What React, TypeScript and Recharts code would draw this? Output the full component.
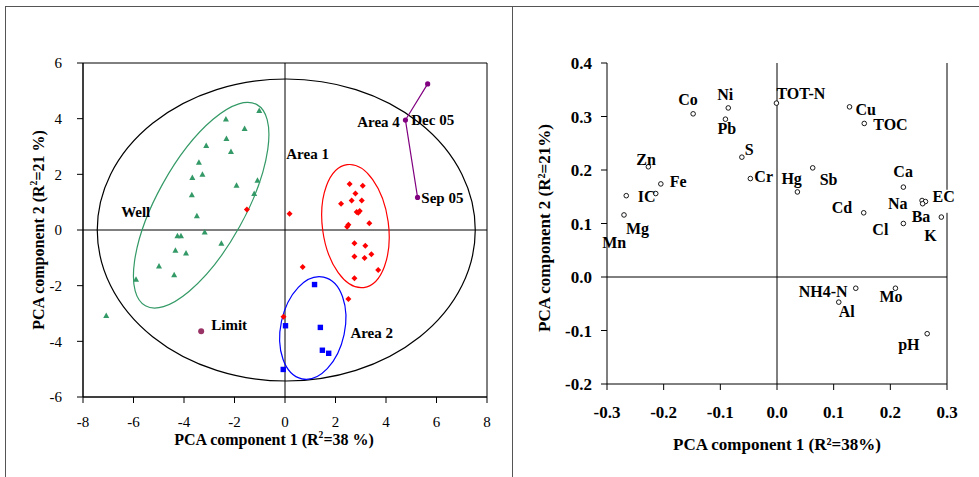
import { ScatterChart, Scatter, XAxis, YAxis, ReferenceLine, ReferenceArea, ReferenceDot } from "recharts";

const SERIF = '"Liberation Serif", "Times New Roman", serif';
const GREEN = "#339966";
const RED = "#FF0000";
const BLUE = "#0000FF";
const PURPLE = "#800080";
const LIMIT_COLOR = "#993366";

// ---- left plot: PCA scores (component 1, component 2) ----
const wellScores: [number, number][] = [
  [-1.02, 4.29], [-2.34, 3.99], [-1.6, 3.65], [-2.32, 3.29], [-3.12, 3.04], [-2.14, 2.82],
  [-3.41, 2.43], [-3.67, 1.89], [-3.27, 2.0], [-1.92, 1.61], [-1.09, 1.79], [-1.22, 1.31],
  [-3.69, 1.27], [-3.49, 0.51], [-3.18, -0.07], [-4.26, -0.21], [-4.12, -0.21], [-2.52, -0.48],
  [-4.34, -0.73], [-3.92, -0.83], [-4.99, -1.29], [-4.39, -1.61], [-5.9, -1.77], [-7.08, -3.07],
];
const area1Scores: [number, number][] = [
  [2.56, 1.65], [3.08, 1.59], [2.79, 1.31], [2.64, 1.06], [3.04, 1.06], [2.22, 0.94],
  [2.84, 0.65], [2.96, 0.68], [2.9, 0.62], [0.18, 0.58], [2.51, 0.19], [2.46, 0.12],
  [3.34, 0.24], [2.75, -0.48], [3.18, -0.57], [2.75, -0.95], [3.15, -1.01], [3.42, -0.87],
  [3.69, -1.44], [2.75, -1.73], [0.7, -1.33], [2.51, -2.48], [-0.06, -3.12], [-1.51, 0.74],
];
const area2Scores: [number, number][] = [
  [1.17, -1.96], [0.02, -3.44], [1.4, -3.5], [1.48, -4.32], [1.73, -4.43], [-0.07, -5.01],
];
const area4Scores: [number, number][] = [[5.65, 5.25], [4.77, 3.95], [5.25, 1.17]];
const limitScore: [number, number][] = [[-3.32, -3.64]];

const scoreTicksX = [-8, -6, -4, -2, 0, 2, 4, 6, 8];
const scoreTicksY = [-6, -4, -2, 0, 2, 4, 6];

// group outlines (centre in data units, radii/rotation in px)
const groupEllipses = [
  { x: 0.05, y: 0, rx: 189, ry: 151, rot: 0, color: "#000" },
  { x: -3.32, y: 0.89, rx: 115, ry: 44, rot: -61, color: GREEN },
  { x: 2.79, y: 0.14, rx: 62, ry: 33, rot: 82.3, color: RED },
  { x: 1.1, y: -3.52, rx: 52, ry: 32, rot: -78, color: BLUE },
];

const scoreLabels = [
  { text: "Well", x: -6.49, y: 0.66 },
  { text: "Area 1", x: 0.05, y: 2.72 },
  { text: "Area 4", x: 2.86, y: 3.88 },
  { text: "Dec 05", x: 5.0, y: 3.94 },
  { text: "Sep 05", x: 5.4, y: 1.16 },
  { text: "Limit", x: -2.92, y: -3.43 },
  { text: "Area 2", x: 2.59, y: -3.7 },
];

// ---- right plot: loadings ----
const variables = [
  "Co", "Ni", "Pb", "S", "Cr", "Zn", "Fe", "IC", "Mn", "Mg", "TOT-N", "Cu", "TOC",
  "Sb", "Hg", "Ca", "Cd", "Na", "EC", "Ba", "K", "Cl", "NH4-N", "Al", "Mo", "pH",
];
const loading1 = [
  -0.148, -0.086, -0.091, -0.062, -0.047, -0.227, -0.205, -0.214, -0.266, -0.27, -0.001, 0.128, 0.154,
  0.063, 0.036, 0.223, 0.153, 0.256, 0.262, 0.257, 0.29, 0.223, 0.139, 0.109, 0.209, 0.265,
];
const loading2 = [
  0.305, 0.316, 0.295, 0.224, 0.184, 0.206, 0.174, 0.156, 0.152, 0.116, 0.325, 0.318, 0.287,
  0.204, 0.159, 0.168, 0.12, 0.143, 0.141, 0.137, 0.112, 0.1, -0.021, -0.047, -0.021, -0.106,
];
const loadTicksX = [-0.3, -0.2, -0.1, 0, 0.1, 0.2, 0.3];
const loadTicksY = [-0.2, -0.1, 0, 0.1, 0.2, 0.3, 0.4];

// label offsets from the marker, px
const labelOffset: Record<string, [number, number]> = {
  Co: [-15, -14], Ni: [-11, -13], Pb: [-8, 9], S: [3, -8], Cr: [4, -2], Zn: [-12, -7],
  Fe: [9, -2], IC: [-18, 3], Mn: [-24, 47], Mg: [2, 14], "TOT-N": [0, -10], Cu: [6, 3],
  TOC: [9, 1], Sb: [7, 12], Hg: [-16, -13], Ca: [-10, -16], Cd: [-32, -5], Na: [-34, 3],
  EC: [7, -5], Ba: [-11, 13], K: [-17, 18], Cl: [-31, 6], "NH4-N": [-57, 3], Al: [0, 9],
  Mo: [-16, 8], pH: [-29, 11],
};

const toXY = (pts: [number, number][]) => pts.map(([x, y]) => ({ x, y }));
const loadings = variables.map((name, i) => ({ name, x: loading1[i], y: loading2[i] }));

const fmt1 = (v: number) => v.toFixed(1);

const Triangle = (p: any) => (
  <polygon points={`${p.cx},${p.cy - 3} ${p.cx + 3},${p.cy + 2.5} ${p.cx - 3},${p.cy + 2.5}`} fill={GREEN} />
);
const Diamond = (p: any) => (
  <polygon points={`${p.cx},${p.cy - 3} ${p.cx + 3},${p.cy} ${p.cx},${p.cy + 3} ${p.cx - 3},${p.cy}`} fill={RED} />
);
const Square = (p: any) => <rect x={p.cx - 2.7} y={p.cy - 2.7} width={5.4} height={5.4} fill={BLUE} />;
const Dot = (color: string, r: number) => (p: any) => <circle cx={p.cx} cy={p.cy} r={r} fill={color} />;

const LoadingMark = (p: any) => {
  const name = p.payload.name;
  const [dx, dy] = labelOffset[name] || [4, 0];
  return (
    <g>
      <circle cx={p.cx} cy={p.cy} r={2.3} fill="#fff" stroke="#000" strokeWidth={0.9} />
      <text x={p.cx + dx} y={p.cy + dy} dominantBaseline="central" fontWeight="bold" fontSize={16} fill="#000"
        style={{ fontFamily: SERIF }}>
        {name}
      </text>
    </g>
  );
};

const title: React.CSSProperties = {
  position: "absolute",
  fontFamily: SERIF,
  fontWeight: "bold",
  whiteSpace: "nowrap",
  color: "#000",
  transform: "translate(-50%, -50%)",
};

export default function App() {
  return (
    <div style={{ position: "absolute", left: 0, top: 0, width: 979, height: 477, background: "#fff", overflow: "hidden", fontFamily: SERIF }}>
      {/* table frame */}
      <div style={{ position: "absolute", left: 5, top: 6, width: 974, height: 0, borderTop: "1.5px solid #555" }} />
      <div style={{ position: "absolute", left: 5, top: 6, width: 0, height: 471, borderLeft: "1.5px solid #555" }} />
      <div style={{ position: "absolute", left: 512, top: 6, width: 0, height: 471, borderLeft: "1.5px solid #555" }} />

      <div style={{ position: "absolute", left: 0, top: 0 }}>
        <ScatterChart width={512} height={477} margin={{ top: 63, right: 25, bottom: 50, left: 43 }}>
          <XAxis type="number" dataKey="x" domain={[-8, 8]} ticks={scoreTicksX} height={30}
            stroke="#000" tickSize={6} tickMargin={13} tick={{ fill: "#000", fontSize: 15, fontFamily: SERIF }} />
          <YAxis type="number" dataKey="y" domain={[-6, 6]} ticks={scoreTicksY} width={40}
            stroke="#000" tickSize={6} tickMargin={15} tick={{ fill: "#000", fontSize: 15, fontFamily: SERIF }} />
          <ReferenceArea x1={-8} x2={8} y1={-6} y2={6} fill="none" stroke="#000" strokeWidth={1} />
          <ReferenceLine x={0} stroke="#000" />
          <ReferenceLine y={0} stroke="#000" />
          {groupEllipses.map((e, i) => (
            <ReferenceDot key={"e" + i} x={e.x} y={e.y} r={0} ifOverflow="visible"
              shape={(p: any) => (
                <ellipse cx={p.cx} cy={p.cy} rx={e.rx} ry={e.ry} transform={`rotate(${e.rot} ${p.cx} ${p.cy})`}
                  fill="none" stroke={e.color} strokeWidth={1.2} />
              )} />
          ))}
          <Scatter data={toXY(wellScores)} shape={Triangle} isAnimationActive={false} />
          <Scatter data={toXY(area1Scores)} shape={Diamond} isAnimationActive={false} />
          <Scatter data={toXY(area2Scores)} shape={Square} isAnimationActive={false} />
          <Scatter data={toXY(area4Scores)} shape={Dot(PURPLE, 2.6)} line={{ stroke: PURPLE, strokeWidth: 1.2 }} isAnimationActive={false} />
          <Scatter data={toXY(limitScore)} shape={Dot(LIMIT_COLOR, 3)} isAnimationActive={false} />
          {scoreLabels.map((l) => (
            <ReferenceDot key={l.text} x={l.x} y={l.y} r={0} ifOverflow="visible"
              shape={(p: any) => (
                <text x={p.cx} y={p.cy} dominantBaseline="central" fontWeight="bold" fontSize={15} fill="#000"
                  style={{ fontFamily: SERIF }}>
                  {l.text}
                </text>
              )} />
          ))}
        </ScatterChart>
      </div>
      <div style={{ ...title, left: 274, top: 439, fontSize: 16 }}>
        PCA component 1 (R<sup style={{ fontSize: "0.6em" }}>2</sup>=38 %)
      </div>
      <div style={{ ...title, left: 38, top: 230, fontSize: 16, transform: "translate(-50%, -50%) rotate(-90deg)" }}>
        PCA component 2 (R<sup style={{ fontSize: "0.6em" }}>2</sup>=21 %)
      </div>

      <div style={{ position: "absolute", left: 512, top: 0 }}>
        <ScatterChart width={467} height={477} margin={{ top: 63, right: 32, bottom: 63, left: 45 }}>
          <XAxis type="number" dataKey="x" domain={[-0.3, 0.3]} ticks={loadTicksX} height={30}
            stroke="#000" tickSize={6} tickMargin={16} tickFormatter={fmt1}
            tick={{ fill: "#000", fontSize: 17, fontWeight: "bold", fontFamily: SERIF }} />
          <YAxis type="number" dataKey="y" domain={[-0.2, 0.4]} ticks={loadTicksY} width={50}
            stroke="#000" tickSize={6} tickMargin={9} tickFormatter={fmt1}
            tick={{ fill: "#000", fontSize: 17, fontWeight: "bold", fontFamily: SERIF }} />
          {/* right border, broken where the EC label sits */}
          <ReferenceLine segment={[{ x: 0.3, y: -0.2 }, { x: 0.3, y: 0.12 }]} stroke="#000" />
          <ReferenceLine segment={[{ x: 0.3, y: 0.163 }, { x: 0.3, y: 0.4 }]} stroke="#000" />
          <ReferenceLine x={0} stroke="#000" />
          <ReferenceLine y={0} stroke="#000" />
          <Scatter data={loadings} shape={LoadingMark} isAnimationActive={false} />
        </ScatterChart>
      </div>
      <div style={{ ...title, left: 777, top: 445, fontSize: 17 }}>PCA component 1 (R²=38%)</div>
      <div style={{ ...title, left: 545, top: 228, fontSize: 17, transform: "translate(-50%, -50%) rotate(-90deg)" }}>
        PCA component 2 (R²=21%)
      </div>
    </div>
  );
}
